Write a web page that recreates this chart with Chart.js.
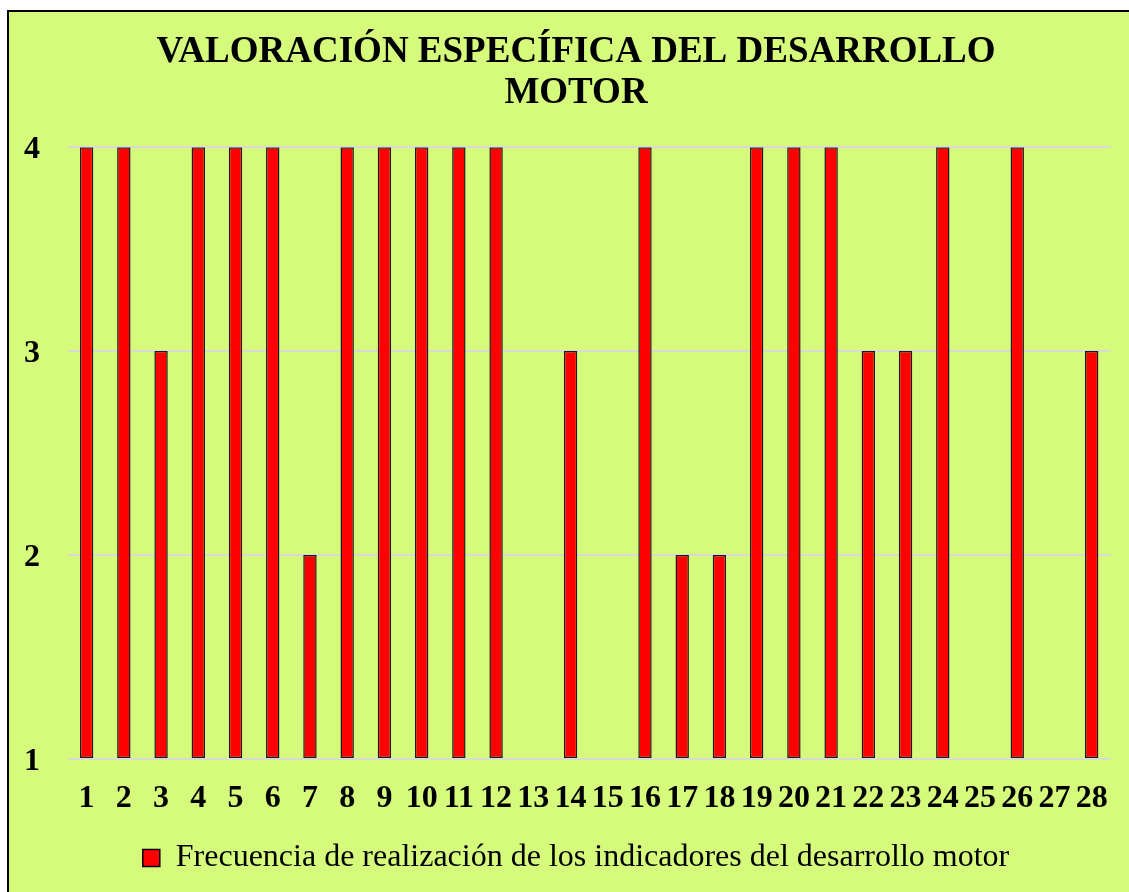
<!DOCTYPE html>
<html>
<head>
<meta charset="utf-8">
<script src="https://cdn.jsdelivr.net/npm/chart.js@4.4.0/dist/chart.umd.min.js"></script>
<style>
  html, body { margin: 0; padding: 0; background: #ffffff; width: 1129px; height: 892px; overflow: hidden; }
  #frame { position: absolute; left: 7px; top: 10px; width: 1140px; height: 900px; border: 2px solid #000; background: #D5FA7C; box-sizing: border-box; }
  #wrap { position: absolute; left: 0; top: 0; width: 1129px; height: 892px; }
</style>
</head>
<body>
<div id="frame"></div>
<div id="wrap"><canvas id="c" width="1129" height="892"></canvas></div>
<script>
const categories = ['1','2','3','4','5','6','7','8','9','10','11','12','13','14','15','16','17','18','19','20','21','22','23','24','25','26','27','28'];
const frecuencia = [4,4,3,4,4,4,2,4,4,4,4,4,1,3,1,4,2,2,4,4,4,3,3,4,1,4,1,3];
const yTicks = [1,2,3,4];
const titleLines = ['VALORACIÓN ESPECÍFICA DEL DESARROLLO', 'MOTOR'];
const seriesLabel = 'Frecuencia de realización de los indicadores del desarrollo motor';

const serif = '"Liberation Serif", "Times New Roman", serif';

new Chart(document.getElementById('c'), {
  type: 'bar',
  data: {
    labels: categories,
    datasets: [{
      label: seriesLabel,
      data: frecuencia,
      base: 1,
      backgroundColor: '#FF0000',
      borderColor: '#1a1a1a',
      borderWidth: 1.5,
      borderSkipped: false,
      categoryPercentage: 1,
      barPercentage: 0.36
    }]
  },
  options: {
    responsive: false,
    animation: false,
    layout: { padding: { left: 40, right: 17, top: 10, bottom: 8 } },
    plugins: {
      title: {
        display: true,
        text: titleLines,
        color: '#000',
        font: { family: serif, size: 37, weight: 'bold', lineHeight: 1.11 },
        padding: { top: 22, bottom: 33 }
      },
      legend: {
        position: 'bottom',
        labels: {
          color: '#000',
          font: { family: serif, size: 32 },
          boxWidth: 17,
          boxHeight: 17,
          padding: 11,
          generateLabels: (chart) => [{
            text: seriesLabel,
            fillStyle: '#FF0000',
            strokeStyle: '#000',
            lineWidth: 1.5,
            datasetIndex: 0
          }]
        }
      },
      tooltip: { enabled: false }
    },
    scales: {
      x: {
        afterFit: (s) => { s.height = 72; },
        grid: { display: false, drawTicks: false },
        border: { display: false },
        ticks: {
          color: '#000',
          font: { family: serif, size: 32, weight: 'bold' },
          padding: 21,
          maxRotation: 0,
          autoSkip: false
        }
      },
      y: {
        min: 1,
        max: 4,
        afterBuildTicks: (s) => { s.ticks = yTicks.map(v => ({ value: v })); },
        afterFit: (s) => { s.width = 28; },
        grid: { color: '#D9D9D9', lineWidth: 2, drawTicks: false },
        border: { display: false },
        ticks: {
          color: '#000',
          font: { family: serif, size: 32, weight: 'bold' },
          mirror: true,
          padding: -44,
          labelOffset: 3
        }
      }
    }
  }
});
</script>
</body>
</html>
